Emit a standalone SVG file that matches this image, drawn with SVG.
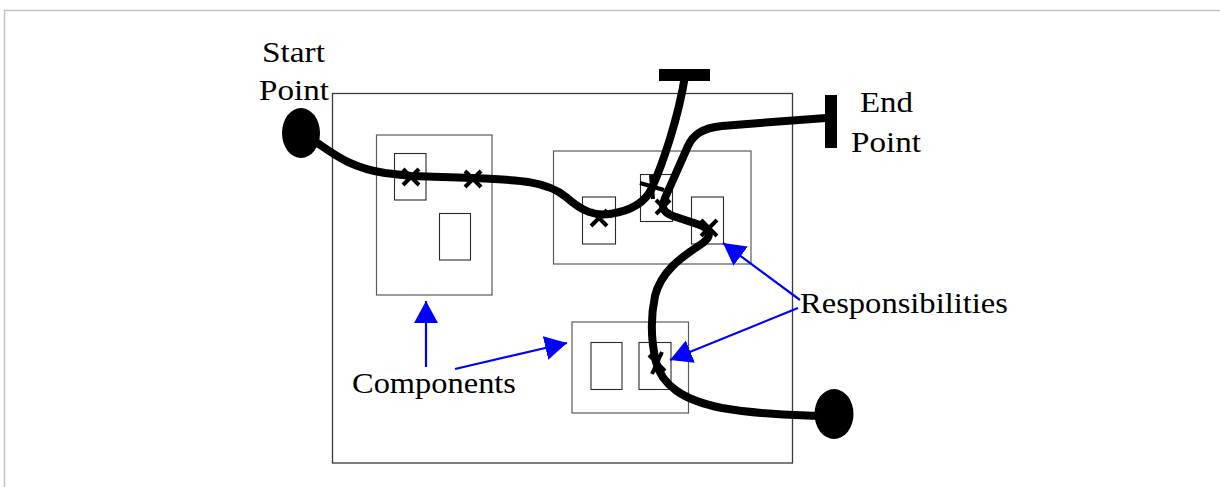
<svg xmlns="http://www.w3.org/2000/svg" width="1220" height="487" viewBox="0 0 1220 487">
<defs>
<style>
.frame{fill:none;stroke:#c4c4c4;stroke-width:1.5}
.outer{fill:none;stroke:#3a3a3a;stroke-width:1.3}
.comp{fill:none;stroke:#5a5a5a;stroke-width:1.2}
.resp{fill:none;stroke:#2a2a2a;stroke-width:1.1}
.path{fill:none;stroke:#000;stroke-width:8;stroke-linecap:round;stroke-linejoin:round}
.x{stroke:#000;stroke-width:4;stroke-linecap:butt}
.ptr{stroke:#0000ff;stroke-width:2.2;fill:none}
</style>
<marker id="ah" markerUnits="userSpaceOnUse" markerWidth="24" markerHeight="26" refX="22" refY="12" orient="auto">
<path d="M0,0 L22,12 L0,24 z" fill="#0000ff"/>
</marker>
</defs>
<rect width="1220" height="487" fill="#fff"/>
<path class="frame" d="M4.5,487 L4.5,10.5 L1220,10.5"/>
<g id="system"><rect class="outer" x="332.5" y="93.5" width="460" height="369.5"/></g>
<g id="comp-left">
<rect class="comp" x="376.5" y="135" width="115.5" height="160"/>
<rect class="resp" x="394.5" y="153.5" width="31.5" height="46.5"/>
<rect class="resp" x="439.5" y="213.5" width="31" height="46.5"/>
</g>
<g id="comp-mid">
<rect class="comp" x="553.5" y="151" width="197.5" height="113"/>
<rect class="resp" x="582.5" y="197" width="33" height="47"/>
<rect class="resp" x="640.5" y="174.5" width="32" height="47"/>
<rect class="resp" x="691.5" y="197" width="32" height="47"/>
</g>
<g id="comp-bottom">
<rect class="comp" x="572" y="322" width="116.5" height="91"/>
<rect class="resp" x="591" y="342.5" width="31" height="47"/>
<rect class="resp" x="639" y="342.5" width="32" height="47"/>
</g>
<g id="connectors">
<path class="path" d="M305,135 C330,150 345,167 385,173 L411,176 L473,178 C520,180 547,181 566,197 C583,212 595,216 610,214 C630,211 645,203 652,188 C662,165 678,120 685,76"/>
<path class="path" d="M826,118 L760,123 L722,126 C702,128 693,135 688,146 L665,198 C661,208 663,212 673,216 L700,225 C712,230 712,237 700,245 C680,258 661,272 655,296 C650,320 652,345 656,362 C662,385 682,400 722,408 C762,415 792,415 818,416"/>
<line class="ptr" x1="426" y1="367" x2="426" y2="301" marker-end="url(#ah)"/>
<line class="ptr" x1="455" y1="369" x2="567" y2="343" marker-end="url(#ah)"/>
<line class="ptr" x1="800" y1="300" x2="723" y2="243" marker-end="url(#ah)"/>
<line class="ptr" x1="798" y1="308" x2="670" y2="360" marker-end="url(#ah)"/>
</g>
<g id="start"><ellipse cx="301" cy="133" rx="19" ry="25" fill="#000"/></g>
<g id="end-bottom"><ellipse cx="834" cy="414" rx="19.5" ry="25" fill="#000"/></g>
<g id="end-top"><rect x="659" y="69" width="51" height="12" fill="#000"/></g>
<g id="end-right"><rect x="825" y="95" width="12" height="53" fill="#000"/></g>
<g id="crosses">
<path class="x" d="M403,169 L419,185 M419,169 L403,185"/>
<path class="x" d="M465,171 L481,187 M481,171 L465,187"/>
<path class="x" d="M591,210 L607,226 M607,210 L591,226"/>
<path class="x" d="M640,183 L664,190 M651,175 L653,199"/>
<path class="x" d="M656,200 L670,214 M670,200 L656,214"/>
<path class="x" d="M701,220 L717,236 M717,220 L701,236"/>
<path class="x" d="M649,355 L665,371 M662,352 L652,374"/>
</g>
<g id="labels" font-family="Liberation Serif, Times New Roman, Tinos, serif" font-size="30" fill="#000">
<text x="262" y="62" textLength="63" lengthAdjust="spacingAndGlyphs">Start</text>
<text x="259" y="100" textLength="70" lengthAdjust="spacingAndGlyphs">Point</text>
<text x="860" y="112" textLength="53" lengthAdjust="spacingAndGlyphs">End</text>
<text x="851" y="152" textLength="70" lengthAdjust="spacingAndGlyphs">Point</text>
<text x="800" y="313" textLength="208" lengthAdjust="spacingAndGlyphs">Responsibilities</text>
<text x="352" y="393" textLength="164" lengthAdjust="spacingAndGlyphs">Components</text>
</g>
</svg>
